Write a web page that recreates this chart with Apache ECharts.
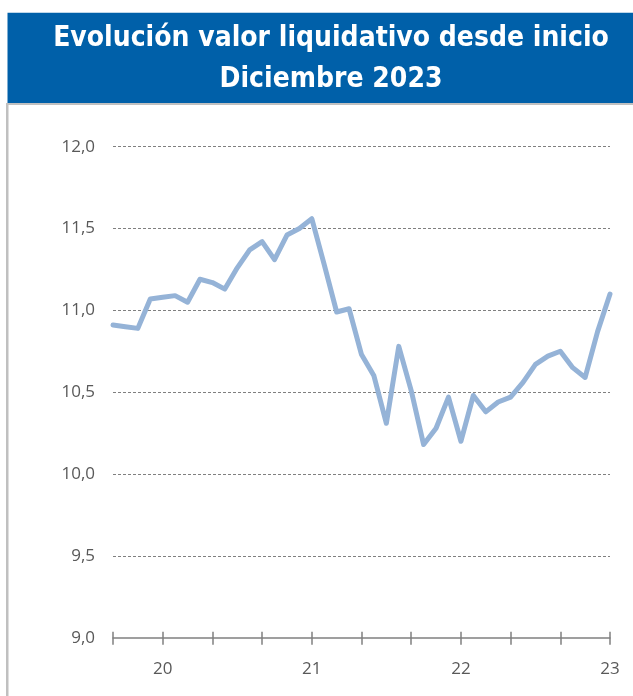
<!DOCTYPE html>
<html>
<head>
<meta charset="utf-8">
<script src="https://cdn.jsdelivr.net/npm/echarts@6/dist/echarts.min.js"></script>
<style>html,body{margin:0;padding:0;background:#fff;}#c{width:633px;height:696px;}</style>
</head>
<body>
<div id="c"></div>
<script>
var titleLines = ['Evolución valor liquidativo desde inicio', 'Diciembre 2023'];
var categories = [
  '2019-09','2019-10','2019-11','2019-12',
  '2020-01','2020-02','2020-03','2020-04','2020-05','2020-06','2020-07','2020-08','2020-09','2020-10','2020-11','2020-12',
  '2021-01','2021-02','2021-03','2021-04','2021-05','2021-06','2021-07','2021-08','2021-09','2021-10','2021-11','2021-12',
  '2022-01','2022-02','2022-03','2022-04','2022-05','2022-06','2022-07','2022-08','2022-09','2022-10','2022-11','2022-12',
  '2023-01'
];
var valorLiquidativo = [
  10.91, 10.90, 10.89, 11.07,
  11.08, 11.09, 11.05, 11.19, 11.17, 11.13, 11.26, 11.37, 11.42, 11.31, 11.46, 11.50,
  11.56, 11.28, 10.99, 11.01, 10.73, 10.60, 10.31, 10.78, 10.51, 10.18, 10.28, 10.47,
  10.20, 10.48, 10.38, 10.44, 10.47, 10.56, 10.67, 10.72, 10.75, 10.65, 10.59, 10.87,
  11.10
];
var yMin = 9, yMax = 12, yStep = 0.5;

var chart = echarts.init(document.getElementById('c'), null, {renderer: 'canvas'});
var labelFont = "'Open Sans', 'Noto Sans', sans-serif";
var titleFont = "bold 28px 'Liberation Sans Narrow', 'DejaVu Sans Condensed', 'Open Sans', sans-serif";
var option = {
  animation: false,
  backgroundColor: '#ffffff',
  graphic: [
    {type: 'rect', shape: {x: 7.5, y: 12.7, width: 626, height: 90.5}, style: {fill: '#0060A9'}, silent: true},
    {type: 'rect', shape: {x: 6, y: 103, width: 627, height: 2}, style: {fill: '#C0C0C0'}, silent: true},
    {type: 'rect', shape: {x: 6, y: 103, width: 2.5, height: 593}, style: {fill: '#C0C0C0'}, silent: true},
    {type: 'text', x: 331, y: 39, style: {text: titleLines[0], fill: '#ffffff', font: titleFont, textAlign: 'center', textVerticalAlign: 'middle'}, silent: true},
    {type: 'text', x: 331, y: 80, style: {text: titleLines[1], fill: '#ffffff', font: titleFont, textAlign: 'center', textVerticalAlign: 'middle'}, silent: true}
  ],
  grid: {left: 113, right: 23, top: 146.7, bottom: 58.3, containLabel: false},
  xAxis: [
    {
      type: 'category',
      data: categories,
      boundaryGap: false,
      axisLine: {show: true, lineStyle: {color: '#808080', width: 1.5}},
      axisTick: {show: false},
      axisLabel: {
        interval: function (i, v) { return v.slice(5) === '01'; },
        formatter: function (v) { return v.slice(2, 4); },
        margin: 23, color: '#595959', fontSize: 17, fontFamily: labelFont
      },
      splitLine: {show: false}
    },
    {
      type: 'category',
      data: categories,
      boundaryGap: false,
      position: 'bottom',
      offset: -6,
      axisLine: {show: false},
      axisTick: {show: true, interval: 3, length: 13, lineStyle: {color: '#808080', width: 1.5}},
      axisLabel: {show: false},
      splitLine: {show: false}
    }
  ],
  yAxis: {
    type: 'value',
    min: yMin, max: yMax, interval: yStep,
    axisLine: {show: false},
    axisTick: {show: false},
    axisLabel: {
      formatter: function (v) { return v.toFixed(1).replace('.', ','); },
      margin: 18, color: '#595959', fontSize: 17, fontFamily: labelFont
    },
    splitLine: {
      show: true,
      showMinLine: false,
      lineStyle: {color: '#808080', width: 1, type: [3, 2]}
    }
  },
  series: [{
    type: 'line',
    xAxisIndex: 0,
    data: valorLiquidativo,
    showSymbol: false,
    symbol: 'none',
    lineStyle: {color: '#95B3D7', width: 5, cap: 'round', join: 'round'},
    z: 3
  }]
};
chart.setOption(option);
</script>
</body>
</html>
